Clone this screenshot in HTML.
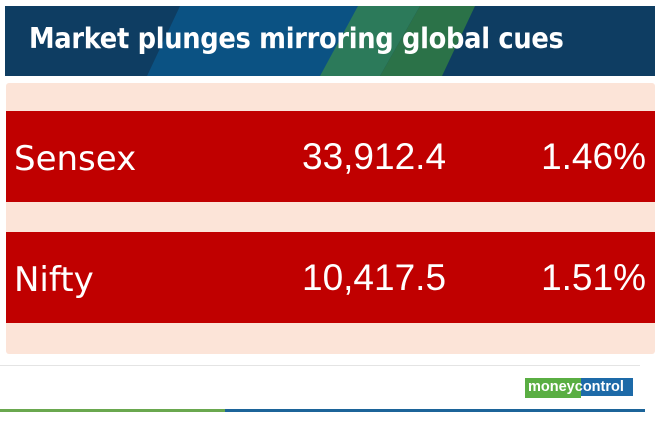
<!DOCTYPE html>
<html><head><style>
body{margin:0;width:662px;height:431px;background:#fff;position:relative;overflow:hidden;font-family:"Liberation Sans",sans-serif}
.a{position:absolute}
.t{color:#fff;white-space:nowrap}
</style></head><body>
<svg class="a" style="left:5px;top:6px" width="650" height="70">
<rect width="650" height="70" fill="#0e3d62"/>
<polygon points="175,0 355,0 315,70 142,70" fill="#0b5283"/>
<polygon points="353,0 415,0 375,70 315,70" fill="#2c7a5a"/>
<polygon points="415,0 470,0 437,70 375,70" fill="#2b7248"/>
</svg>
<div class="a t" style="left:29px;top:21px;font-size:28.6px;font-weight:bold;font-family:'DejaVu Sans Condensed','Liberation Sans',sans-serif;letter-spacing:-0.3px">Market plunges mirroring global cues</div>
<div class="a" style="left:6px;top:83px;width:649px;height:271px;background:#fce4d8;border-radius:3px"></div>
<div class="a" style="left:6px;top:111px;width:649px;height:91px;background:#c00000"></div>
<div class="a" style="left:6px;top:232px;width:649px;height:91px;background:#c00000"></div>
<div class="a t" style="left:14px;top:139px;font-size:34px;font-family:'DejaVu Sans','Liberation Sans',sans-serif">Sensex</div>
<div class="a t" style="left:302px;top:136px;font-size:37px">33,912.4</div>
<div class="a t" style="right:16px;top:136px;font-size:37px">1.46%</div>
<div class="a t" style="left:14px;top:260px;font-size:34px;font-family:'DejaVu Sans','Liberation Sans',sans-serif">Nifty</div>
<div class="a t" style="left:302px;top:257px;font-size:37px">10,417.5</div>
<div class="a t" style="right:16px;top:257px;font-size:37px">1.51%</div>
<div class="a" style="left:0;top:365px;width:640px;height:1px;background:#e4e4e4"></div>
<div class="a" style="left:525px;top:378px;width:56px;height:20px;background:#5aae43"></div>
<div class="a" style="left:581px;top:378px;width:52px;height:18px;background:#1d6aa8"></div>
<div class="a t" style="left:528px;top:379px;font-size:14.5px;font-weight:bold">money<span>control</span></div>
<div class="a" style="left:0;top:409px;width:225px;height:3px;background:#6aa84f"></div>
<div class="a" style="left:225px;top:409px;width:420px;height:3px;background:#1c6499"></div>
</body></html>
